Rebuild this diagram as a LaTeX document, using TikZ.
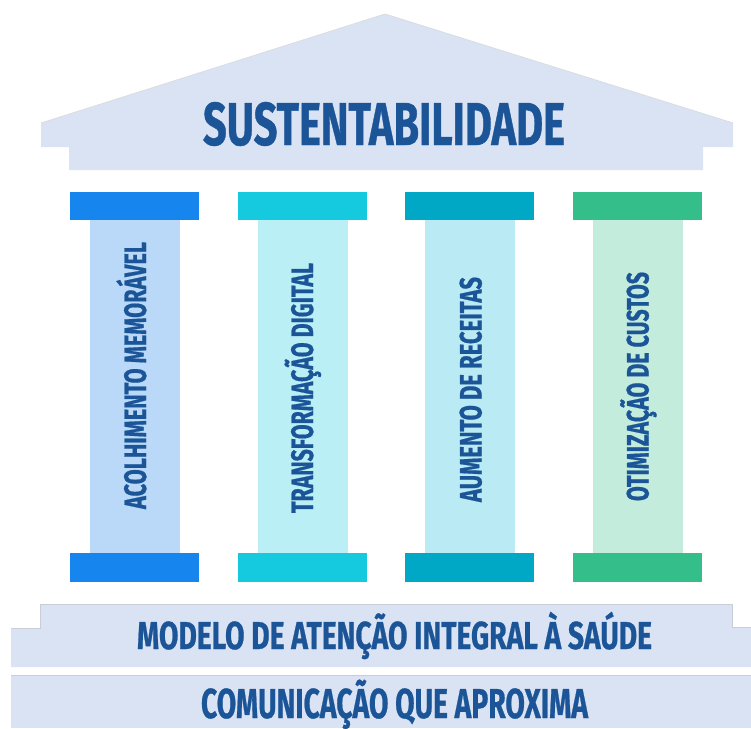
\documentclass[tikz,border=0pt]{standalone}
\usepackage{fontspec}
\usepackage{graphicx}
\newfontfamily\dinf{Fira Sans}[BoldFeatures={FakeBold=0.8}]
\definecolor{bandbg}{RGB}{218,227,243}
\definecolor{edgegray}{RGB}{200,205,214}
\definecolor{txtblue}{RGB}{27,85,151}
\definecolor{capA}{RGB}{23,133,238}
\definecolor{shaftA}{RGB}{186,217,248}
\definecolor{capB}{RGB}{21,201,223}
\definecolor{shaftB}{RGB}{187,239,246}
\definecolor{capC}{RGB}{1,168,197}
\definecolor{shaftC}{RGB}{186,235,245}
\definecolor{capD}{RGB}{52,191,138}
\definecolor{shaftD}{RGB}{196,236,220}
\newsavebox\fitbx
\newlength\fitcap
\newcommand\fittext[3]{%
  \sbox\fitbx{\dinf\bfseries\MakeUppercase{#3}}%
  \settoheight\fitcap{\dinf\bfseries H}%
  \pgfmathsetmacro\fitsx{#1/\the\wd\fitbx}%
  \pgfmathsetmacro\fitsy{#2/\the\fitcap}%
  \scalebox{\fitsx}[\fitsy]{\usebox\fitbx}}
\tikzset{
  lbl/.style={inner sep=0pt, outer sep=0pt, anchor=base, text=txtblue},
  vlbl/.style={lbl, rotate=90},
  band/.style={fill=bandbg, draw=none},
  topedge/.style={draw=edgegray, line width=0.8pt}
}
\begin{document}
\begin{tikzpicture}[x=1pt,y=-1pt]
\useasboundingbox (0,0) rectangle (751,728);
% roof
\path[band] (385,14) -- (733,123) -- (733,147) -- (703,147) -- (703,170)
  -- (69,170) -- (69,147) -- (41,147) -- (41,123) -- cycle;
\draw[topedge, draw=edgegray!70] (41,123) -- (385,14) -- (733,123);
\node[lbl] (title) at (384,145) {\fittext{362}{42}{SUSTENTABILIDADE}};
% pillars
\foreach \x/\c/\s [count=\i] in {70/capA/shaftA, 238/capB/shaftB, 405/capC/shaftC, 573/capD/shaftD}{
  \fill[\s] (\x+20,220) rectangle (\x+110,553);
  \fill[\c] (\x,192) rectangle (\x+129,220);
  \fill[\c] (\x,553) rectangle (\x+129,582);
}
\node[vlbl] (p1) at (146,375.5) {\fittext{267}{21.5}{ACOLHIMENTO MEMORÁVEL}};
\node[vlbl] (p2) at (313,388) {\fittext{250}{21.5}{TRANSFORMAÇÃO DIGITAL}};
\node[vlbl] (p3) at (481.5,389.5) {\fittext{225}{21.5}{AUMENTO DE RECEITAS}};
\node[vlbl] (p4) at (648.5,386.5) {\fittext{229}{21.5}{OTIMIZAÇÃO DE CUSTOS}};
% base bands
\path[band] (40,604) -- (732,604) -- (732,627) -- (751,627) -- (751,667)
  -- (11,667) -- (11,628) -- (40,628) -- cycle;
\draw[topedge] (11,628) -- (40,628) -- (40,604) -- (732,604) -- (732,627) -- (751,627);
\path[band] (11,675) rectangle (751,728);
\draw[topedge] (11,675) -- (751,675);
\node[lbl] (modelo) at (394.5,649) {\fittext{515}{27}{MODELO DE ATENÇÃO INTEGRAL À SAÚDE}};
\node[lbl] (comun) at (394.5,718) {\fittext{387}{29}{COMUNICAÇÃO QUE APROXIMA}};
\end{tikzpicture}
\end{document}
